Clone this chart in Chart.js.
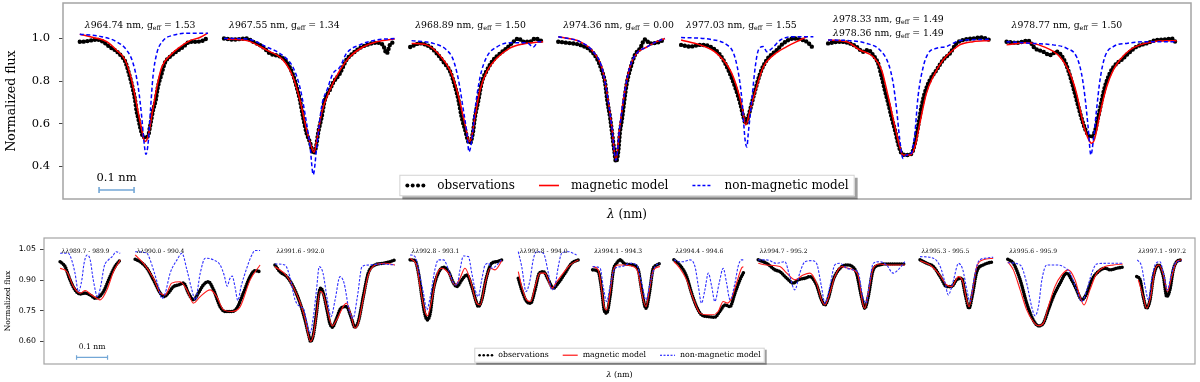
<!DOCTYPE html>
<html>
<head>
<meta charset="utf-8">
<script src="https://cdn.jsdelivr.net/npm/chart.js@4.4.1/dist/chart.umd.min.js"></script>
<style>
  html, body { margin: 0; padding: 0; background: #fff; }
  #wrap { position: relative; width: 1200px; height: 382px; overflow: hidden; }
  canvas { position: absolute; left: 0; }
  #topPanel { top: 0; }
  #botPanel { top: 230px; }
</style>
</head>
<body>
<div id="wrap">
  <canvas id="topPanel" width="1200" height="230"></canvas>
  <canvas id="botPanel" width="1200" height="152"></canvas>
</div>
<script>
const SERIF = '"DejaVu Serif"';
const SANS = '"DejaVu Sans"';

const seriesNames = ['observations', 'magnetic model', 'non-magnetic model'];

// ---------- upper panel: single lines, x = offset from line centre (nm) ----------
// where each line centre sits on the joined wavelength axis (nm)
const topCentres = [0.237, 0.715, 1.161, 1.580, 1.951, 2.411, 2.939];
const topWave = [[964.74], [967.55], [968.89], [974.36], [977.03], [978.33, 978.36], [978.77]];
const topGeff = [[1.53], [1.34], [1.50], [0.00], [1.55], [1.49, 1.49], [1.50]];
const topTicks = [0.4, 0.6, 0.8, 1.0];

const topObs = [
  [[-0.189,0.985],[-0.180,0.985],[-0.160,0.990],[-0.141,0.995],[-0.123,0.985],[-0.103,0.960],[-0.084,0.940],[-0.069,0.915],[-0.060,0.895],[-0.046,0.820],[-0.037,0.760],[-0.031,0.710],[-0.027,0.660],[-0.022,0.625],[-0.017,0.585],[-0.012,0.555],[-0.008,0.535],[-0.001,0.535],[0.007,0.545],[0.011,0.580],[0.016,0.625],[0.020,0.660],[0.028,0.710],[0.034,0.770],[0.045,0.835],[0.054,0.885],[0.069,0.915],[0.088,0.940],[0.106,0.960],[0.126,0.985],[0.145,0.985],[0.163,0.990],[0.177,1.005]],
  [[-0.255,1.000],[-0.229,0.995],[-0.190,1.000],[-0.172,0.985],[-0.144,0.960],[-0.124,0.930],[-0.095,0.915],[-0.076,0.890],[-0.058,0.830],[-0.047,0.770],[-0.038,0.710],[-0.029,0.630],[-0.019,0.555],[-0.009,0.510],[0,0.460],[0.008,0.490],[0.014,0.555],[0.024,0.630],[0.033,0.710],[0.048,0.760],[0.056,0.790],[0.076,0.835],[0.095,0.900],[0.113,0.930],[0.133,0.955],[0.153,0.970],[0.181,0.980],[0.199,0.970],[0.210,0.930],[0.219,0.970],[0.233,0.985]],
  [[-0.169,0.960],[-0.141,0.977],[-0.112,0.960],[-0.093,0.930],[-0.074,0.890],[-0.055,0.845],[-0.041,0.775],[-0.031,0.710],[-0.022,0.630],[-0.012,0.570],[-0.003,0.515],[0.002,0.508],[0.010,0.555],[0.016,0.630],[0.026,0.710],[0.035,0.790],[0.050,0.850],[0.069,0.900],[0.088,0.930],[0.107,0.955],[0.126,0.985],[0.140,1.000],[0.154,0.985],[0.173,0.985],[0.188,1.000],[0.211,0.985]],
  [[-0.165,0.985],[-0.141,0.980],[-0.103,0.970],[-0.074,0.946],[-0.055,0.907],[-0.041,0.852],[-0.031,0.790],[-0.025,0.710],[-0.017,0.630],[-0.011,0.554],[-0.005,0.475],[0,0.420],[0.007,0.475],[0.011,0.554],[0.018,0.630],[0.024,0.710],[0.031,0.790],[0.040,0.852],[0.054,0.922],[0.069,0.954],[0.083,0.996],[0.097,0.977],[0.116,0.980],[0.140,0.996]],
  [[-0.185,0.970],[-0.159,0.962],[-0.131,0.970],[-0.102,0.962],[-0.073,0.922],[-0.050,0.852],[-0.031,0.773],[-0.016,0.695],[-0.007,0.632],[0,0.600],[0.007,0.632],[0.017,0.695],[0.027,0.758],[0.041,0.836],[0.060,0.900],[0.089,0.946],[0.107,0.977],[0.136,1.000],[0.155,0.996],[0.174,0.985],[0.193,0.954]],
  [[-0.225,0.977],[-0.191,0.985],[-0.163,0.977],[-0.144,0.962],[-0.125,0.938],[-0.111,0.946],[-0.096,0.922],[-0.082,0.883],[-0.072,0.820],[-0.063,0.758],[-0.053,0.695],[-0.044,0.632],[-0.034,0.570],[-0.025,0.507],[-0.015,0.460],[-0.001,0.452],[0.013,0.457],[0.023,0.507],[0.032,0.585],[0.042,0.680],[0.051,0.742],[0.066,0.805],[0.085,0.852],[0.104,0.900],[0.123,0.930],[0.142,0.977],[0.161,0.993],[0.189,1.000],[0.213,1.005],[0.237,0.993]],
  [[-0.243,0.985],[-0.214,0.980],[-0.181,0.990],[-0.162,0.954],[-0.138,0.938],[-0.119,0.922],[-0.100,0.938],[-0.081,0.907],[-0.067,0.852],[-0.053,0.773],[-0.038,0.680],[-0.024,0.600],[-0.010,0.546],[0,0.538],[0.009,0.561],[0.019,0.632],[0.029,0.710],[0.038,0.773],[0.052,0.836],[0.067,0.875],[0.086,0.900],[0.105,0.930],[0.129,0.962],[0.157,0.977],[0.186,0.993],[0.214,0.996],[0.229,1.000],[0.243,0.977]]
];

const topMag = [
  [[-0.189,1.020],[-0.151,1.005],[-0.112,0.985],[-0.084,0.945],[-0.060,0.900],[-0.041,0.805],[-0.027,0.695],[-0.012,0.570],[-0.003,0.515],[0.007,0.545],[0.016,0.630],[0.031,0.770],[0.045,0.865],[0.069,0.920],[0.097,0.960],[0.126,0.990],[0.154,1.005],[0.177,1.025]],
  [[-0.247,0.997],[-0.190,0.990],[-0.133,0.945],[-0.087,0.900],[-0.058,0.820],[-0.038,0.710],[-0.019,0.570],[-0.005,0.490],[0.002,0.465],[0.010,0.520],[0.024,0.650],[0.048,0.760],[0.076,0.850],[0.105,0.915],[0.142,0.960],[0.181,0.985],[0.233,0.998]],
  [[-0.165,0.977],[-0.122,0.970],[-0.084,0.920],[-0.055,0.850],[-0.036,0.760],[-0.017,0.630],[-0.007,0.555],[-0.001,0.515],[0.007,0.538],[0.016,0.630],[0.031,0.760],[0.050,0.845],[0.078,0.907],[0.116,0.955],[0.154,0.974],[0.211,0.985]],
  [[-0.165,1.008],[-0.103,0.985],[-0.065,0.938],[-0.041,0.867],[-0.027,0.758],[-0.012,0.585],[0,0.428],[0.011,0.585],[0.026,0.758],[0.040,0.867],[0.059,0.930],[0.088,0.960],[0.116,0.985],[0.140,1.000]],
  [[-0.185,0.993],[-0.131,0.970],[-0.083,0.930],[-0.045,0.852],[-0.026,0.773],[-0.011,0.680],[0,0.593],[0.012,0.663],[0.027,0.750],[0.050,0.867],[0.079,0.922],[0.117,0.962],[0.155,0.993],[0.174,1.008]],
  [[-0.225,0.993],[-0.172,0.985],[-0.134,0.946],[-0.096,0.914],[-0.072,0.852],[-0.053,0.726],[-0.034,0.585],[-0.020,0.490],[-0.011,0.452],[0.009,0.452],[0.023,0.490],[0.037,0.600],[0.056,0.742],[0.075,0.820],[0.104,0.900],[0.132,0.946],[0.151,0.970],[0.189,0.985],[0.237,0.990]],
  [[-0.243,0.970],[-0.186,0.980],[-0.138,0.962],[-0.091,0.914],[-0.062,0.836],[-0.043,0.742],[-0.024,0.600],[-0.010,0.530],[0,0.507],[0.009,0.530],[0.024,0.648],[0.043,0.773],[0.062,0.852],[0.081,0.900],[0.109,0.946],[0.138,0.970],[0.176,0.985],[0.243,0.990]]
];

const topNonMag = [
  [[-0.189,1.020],[-0.131,1.010],[-0.084,0.985],[-0.055,0.945],[-0.037,0.885],[-0.022,0.770],[-0.012,0.630],[-0.006,0.520],[0,0.455],[0.007,0.520],[0.013,0.665],[0.020,0.820],[0.031,0.930],[0.049,0.990],[0.077,1.015],[0.126,1.025],[0.177,1.025]],
  [[-0.255,1.000],[-0.190,0.998],[-0.133,0.960],[-0.087,0.920],[-0.058,0.865],[-0.038,0.770],[-0.024,0.650],[-0.009,0.490],[0,0.360],[0.010,0.490],[0.024,0.680],[0.042,0.770],[0.056,0.835],[0.076,0.865],[0.095,0.930],[0.133,0.970],[0.181,0.993],[0.233,1.000]],
  [[-0.165,0.990],[-0.103,0.977],[-0.065,0.946],[-0.046,0.900],[-0.031,0.805],[-0.017,0.663],[-0.007,0.555],[-0.001,0.467],[0.007,0.522],[0.016,0.663],[0.031,0.820],[0.050,0.914],[0.078,0.960],[0.116,0.980],[0.164,0.980],[0.183,0.960],[0.197,0.985],[0.211,0.985]],
  [[-0.165,1.008],[-0.103,0.985],[-0.065,0.938],[-0.041,0.867],[-0.027,0.758],[-0.012,0.585],[0,0.428],[0.011,0.585],[0.026,0.758],[0.040,0.867],[0.059,0.930],[0.088,0.960],[0.116,0.985],[0.140,1.000]],
  [[-0.185,1.005],[-0.102,0.996],[-0.054,0.970],[-0.035,0.930],[-0.021,0.836],[-0.011,0.710],[-0.002,0.522],[0.003,0.490],[0.007,0.554],[0.017,0.710],[0.027,0.867],[0.036,0.946],[0.050,0.962],[0.060,0.938],[0.075,0.954],[0.099,0.993],[0.136,1.008],[0.193,1.008]],
  [[-0.225,0.993],[-0.163,0.990],[-0.115,0.977],[-0.077,0.946],[-0.053,0.883],[-0.039,0.790],[-0.029,0.663],[-0.020,0.522],[-0.011,0.436],[-0.001,0.452],[0.013,0.460],[0.023,0.554],[0.032,0.726],[0.047,0.867],[0.061,0.930],[0.085,0.954],[0.113,0.962],[0.132,0.977],[0.151,0.990],[0.237,0.996]],
  [[-0.243,0.985],[-0.167,0.977],[-0.110,0.970],[-0.071,0.954],[-0.043,0.914],[-0.029,0.836],[-0.019,0.726],[-0.010,0.585],[-0.002,0.452],[0.005,0.522],[0.014,0.663],[0.024,0.805],[0.038,0.914],[0.062,0.962],[0.100,0.977],[0.157,0.985],[0.243,0.985]]
];

// ---------- lower panel: wavelength windows, x = offset from window start (nm) ----------
const botStarts = [0.052, 0.294, 0.745, 1.181, 1.530, 1.770, 2.032, 2.304, 2.826, 3.109, 3.525];
const botRanges = ['989.7 - 989.9', '990.0 - 990.4', '991.6 - 992.0', '992.8 - 993.1', '993.8 - 994.0',
  '994.1 - 994.3', '994.4 - 994.6', '994.7 - 995.2', '995.3 - 995.5', '995.6 - 995.9', '997.1 - 997.2'];
const botTicks = [0.60, 0.75, 0.90, 1.05];

const botObs = [
  [[0,0.990],[0.016,0.966],[0.032,0.901],[0.048,0.852],[0.065,0.832],[0.081,0.836],[0.097,0.827],[0.113,0.811],[0.124,0.816],[0.140,0.844],[0.161,0.917],[0.177,0.966],[0.194,0.999]],
  [[0,1.002],[0.016,0.990],[0.038,0.958],[0.059,0.901],[0.081,0.836],[0.094,0.819],[0.107,0.836],[0.124,0.868],[0.140,0.876],[0.156,0.885],[0.172,0.836],[0.188,0.803],[0.204,0.836],[0.220,0.876],[0.236,0.892],[0.253,0.852],[0.274,0.770],[0.290,0.746],[0.312,0.746],[0.328,0.762],[0.349,0.836],[0.371,0.917],[0.387,0.946],[0.403,0.941]],
  [[0,0.974],[0.016,0.941],[0.038,0.917],[0.059,0.868],[0.081,0.787],[0.097,0.705],[0.110,0.623],[0.115,0.599],[0.124,0.632],[0.134,0.738],[0.142,0.836],[0.148,0.860],[0.156,0.836],[0.168,0.754],[0.177,0.689],[0.185,0.669],[0.197,0.705],[0.213,0.762],[0.231,0.770],[0.245,0.721],[0.258,0.669],[0.269,0.697],[0.285,0.819],[0.301,0.934],[0.323,0.974],[0.349,0.982],[0.371,0.990],[0.387,0.999]],
  [[0,0.999],[0.016,0.995],[0.027,0.934],[0.038,0.819],[0.048,0.730],[0.056,0.705],[0.065,0.738],[0.075,0.852],[0.091,0.934],[0.108,0.963],[0.124,0.941],[0.140,0.885],[0.151,0.868],[0.167,0.901],[0.183,0.925],[0.199,0.868],[0.213,0.795],[0.220,0.770],[0.231,0.803],[0.247,0.917],[0.263,0.982],[0.280,0.990],[0.296,0.999]],
  [[0,0.909],[0.011,0.852],[0.027,0.795],[0.040,0.787],[0.054,0.852],[0.068,0.934],[0.081,0.941],[0.097,0.901],[0.113,0.860],[0.129,0.885],[0.151,0.934],[0.172,0.982],[0.194,0.999]],
  [[0,0.950],[0.018,0.941],[0.029,0.852],[0.037,0.754],[0.045,0.738],[0.056,0.819],[0.067,0.950],[0.077,0.982],[0.088,0.999],[0.104,0.979],[0.131,0.974],[0.147,0.950],[0.158,0.852],[0.172,0.762],[0.183,0.836],[0.194,0.950],[0.207,0.974],[0.217,0.982]],
  [[0,0.999],[0.019,0.974],[0.041,0.917],[0.057,0.836],[0.073,0.770],[0.089,0.730],[0.111,0.721],[0.132,0.718],[0.148,0.746],[0.165,0.778],[0.181,0.770],[0.197,0.836],[0.213,0.901],[0.226,0.941]],
  [[0,0.999],[0.027,0.982],[0.054,0.950],[0.070,0.941],[0.092,0.909],[0.113,0.885],[0.129,0.901],[0.151,0.909],[0.167,0.917],[0.188,0.876],[0.204,0.803],[0.215,0.778],[0.226,0.811],[0.242,0.901],[0.264,0.958],[0.285,0.974],[0.301,0.969],[0.317,0.934],[0.333,0.819],[0.344,0.762],[0.355,0.819],[0.371,0.950],[0.392,0.974],[0.414,0.979],[0.441,0.979],[0.473,0.979]],
  [[0,0.999],[0.022,0.982],[0.043,0.966],[0.065,0.917],[0.086,0.868],[0.102,0.868],[0.118,0.901],[0.134,0.909],[0.145,0.836],[0.158,0.762],[0.170,0.836],[0.183,0.941],[0.204,0.974],[0.236,0.990]],
  [[0,1.002],[0.018,0.982],[0.040,0.901],[0.061,0.787],[0.082,0.705],[0.099,0.676],[0.115,0.689],[0.131,0.754],[0.147,0.819],[0.169,0.885],[0.190,0.934],[0.206,0.901],[0.222,0.852],[0.239,0.803],[0.255,0.836],[0.271,0.901],[0.292,0.941],[0.314,0.958],[0.330,0.950],[0.352,0.958],[0.371,0.963]],
  [[0,0.917],[0.011,0.901],[0.021,0.819],[0.032,0.762],[0.043,0.803],[0.054,0.917],[0.070,0.974],[0.086,0.917],[0.097,0.819],[0.107,0.852],[0.118,0.950],[0.129,0.990],[0.145,0.999]]
];

const botMag = [
  [[0,0.958],[0.022,0.941],[0.043,0.868],[0.065,0.836],[0.081,0.849],[0.097,0.832],[0.118,0.811],[0.129,0.803],[0.151,0.852],[0.172,0.941],[0.194,0.999]],
  [[0,1.023],[0.027,0.982],[0.059,0.909],[0.081,0.836],[0.097,0.827],[0.118,0.885],[0.145,0.892],[0.167,0.852],[0.188,0.787],[0.210,0.819],[0.242,0.852],[0.263,0.819],[0.285,0.754],[0.312,0.746],[0.339,0.770],[0.371,0.901],[0.403,0.974]],
  [[0,0.965],[0.038,0.920],[0.081,0.790],[0.097,0.710],[0.115,0.600],[0.124,0.630],[0.134,0.730],[0.145,0.845],[0.156,0.830],[0.168,0.760],[0.185,0.675],[0.197,0.700],[0.231,0.787],[0.245,0.730],[0.258,0.664],[0.269,0.690],[0.285,0.810],[0.301,0.925],[0.323,0.974],[0.355,0.982],[0.387,0.974]],
  [[0,1.007],[0.022,0.966],[0.032,0.868],[0.048,0.746],[0.056,0.725],[0.070,0.803],[0.086,0.925],[0.102,0.958],[0.124,0.934],[0.145,0.876],[0.161,0.909],[0.177,0.958],[0.194,0.901],[0.215,0.787],[0.226,0.778],[0.242,0.885],[0.258,0.958],[0.274,0.950],[0.296,0.995]],
  [[0,0.941],[0.011,0.868],[0.027,0.803],[0.040,0.795],[0.054,0.868],[0.070,0.934],[0.086,0.934],[0.108,0.860],[0.124,0.892],[0.145,0.934],[0.167,0.974],[0.194,0.999]],
  [[0,0.966],[0.018,0.950],[0.029,0.852],[0.037,0.770],[0.045,0.754],[0.056,0.836],[0.067,0.950],[0.083,0.974],[0.104,0.974],[0.131,0.966],[0.147,0.934],[0.158,0.836],[0.172,0.770],[0.183,0.852],[0.196,0.950],[0.217,0.966]],
  [[0,0.990],[0.019,0.958],[0.041,0.901],[0.062,0.811],[0.084,0.738],[0.105,0.730],[0.126,0.730],[0.143,0.746],[0.159,0.795],[0.172,0.787],[0.186,0.811],[0.202,0.885],[0.218,0.958],[0.224,0.966]],
  [[0,0.982],[0.027,0.974],[0.070,0.966],[0.092,0.934],[0.119,0.901],[0.145,0.925],[0.167,0.934],[0.188,0.885],[0.204,0.803],[0.215,0.778],[0.231,0.836],[0.247,0.917],[0.269,0.966],[0.290,0.958],[0.306,0.950],[0.323,0.917],[0.337,0.787],[0.344,0.762],[0.355,0.836],[0.371,0.958],[0.392,0.979],[0.425,0.974],[0.473,0.974]],
  [[0,0.995],[0.032,0.974],[0.059,0.934],[0.086,0.876],[0.102,0.868],[0.124,0.917],[0.138,0.892],[0.148,0.819],[0.158,0.770],[0.170,0.852],[0.183,0.966],[0.204,0.999],[0.236,1.007]],
  [[0,0.990],[0.018,0.950],[0.040,0.852],[0.061,0.754],[0.082,0.697],[0.099,0.676],[0.115,0.689],[0.131,0.770],[0.152,0.868],[0.174,0.925],[0.195,0.950],[0.217,0.901],[0.233,0.819],[0.246,0.778],[0.265,0.852],[0.287,0.934],[0.314,0.966],[0.341,0.974],[0.371,0.979]],
  [[0.005,0.901],[0.021,0.819],[0.032,0.762],[0.045,0.819],[0.059,0.950],[0.072,0.974],[0.086,0.925],[0.099,0.844],[0.113,0.917],[0.129,0.990],[0.145,0.999]]
];

const botNonMag = [
  [[0,1.031],[0.026,1.031],[0.039,0.990],[0.048,0.934],[0.059,0.844],[0.070,0.900],[0.077,0.980],[0.087,1.023],[0.097,0.999],[0.107,0.900],[0.121,0.819],[0.131,0.870],[0.142,0.966],[0.156,0.999],[0.168,1.015],[0.181,1.039],[0.194,1.031]],
  [[0,1.039],[0.038,1.031],[0.048,1.000],[0.059,0.950],[0.075,0.868],[0.086,0.810],[0.097,0.836],[0.113,0.934],[0.135,0.999],[0.151,1.031],[0.167,0.950],[0.183,0.852],[0.194,0.803],[0.210,0.934],[0.226,1.007],[0.253,0.999],[0.274,0.974],[0.287,0.925],[0.297,0.870],[0.305,0.905],[0.313,0.920],[0.323,0.860],[0.331,0.800],[0.342,0.870],[0.360,0.958],[0.374,1.015],[0.387,1.045],[0.403,1.045]],
  [[0,0.979],[0.032,0.974],[0.048,0.917],[0.065,0.803],[0.081,0.770],[0.094,0.754],[0.103,0.689],[0.113,0.640],[0.124,0.721],[0.134,0.852],[0.143,0.966],[0.155,0.934],[0.169,0.803],[0.181,0.721],[0.194,0.803],[0.210,0.917],[0.223,0.885],[0.239,0.754],[0.252,0.713],[0.266,0.819],[0.281,0.966],[0.306,0.974],[0.339,0.979],[0.387,0.974]],
  [[0,1.023],[0.016,1.015],[0.027,0.950],[0.043,0.836],[0.054,0.754],[0.065,0.819],[0.081,0.958],[0.091,0.999],[0.108,0.999],[0.124,0.950],[0.140,0.885],[0.151,0.876],[0.161,0.950],[0.172,1.018],[0.188,1.015],[0.199,0.934],[0.210,0.852],[0.220,0.819],[0.231,0.901],[0.242,0.974],[0.253,0.982],[0.263,0.958],[0.280,0.974],[0.296,1.002]],
  [[0,1.039],[0.011,0.966],[0.025,0.844],[0.038,0.901],[0.048,0.999],[0.059,1.039],[0.081,1.031],[0.097,0.934],[0.108,0.852],[0.118,0.868],[0.129,0.966],[0.140,1.031],[0.161,1.039],[0.188,1.023]],
  [[0,0.966],[0.024,0.958],[0.034,0.868],[0.045,0.795],[0.056,0.868],[0.072,0.958],[0.094,0.966],[0.120,0.982],[0.142,0.974],[0.158,0.885],[0.172,0.803],[0.185,0.885],[0.201,0.966],[0.217,0.982]],
  [[0,0.999],[0.014,0.990],[0.030,0.990],[0.052,0.999],[0.068,0.966],[0.079,0.868],[0.089,0.787],[0.100,0.852],[0.111,0.934],[0.122,0.868],[0.132,0.795],[0.146,0.885],[0.159,0.958],[0.170,0.885],[0.181,0.803],[0.197,0.885],[0.207,0.966],[0.218,0.999],[0.224,0.999]],
  [[0,0.999],[0.027,0.999],[0.059,0.982],[0.086,0.990],[0.102,0.917],[0.118,0.852],[0.134,0.934],[0.151,0.990],[0.172,0.995],[0.188,0.982],[0.204,0.868],[0.215,0.787],[0.231,0.868],[0.247,0.974],[0.264,0.982],[0.285,0.958],[0.306,0.950],[0.323,0.934],[0.337,0.819],[0.348,0.787],[0.359,0.885],[0.371,0.982],[0.392,0.990],[0.414,0.974],[0.435,0.934],[0.451,0.950],[0.473,0.990]],
  [[0,1.015],[0.043,1.007],[0.065,0.966],[0.081,0.885],[0.091,0.827],[0.108,0.901],[0.124,0.982],[0.138,0.950],[0.151,0.852],[0.161,0.795],[0.174,0.901],[0.188,0.990],[0.210,1.007],[0.236,1.012]],
  [[0,0.985],[0.040,0.974],[0.061,0.885],[0.077,0.770],[0.088,0.725],[0.099,0.770],[0.110,0.901],[0.126,0.974],[0.158,0.974],[0.179,0.966],[0.201,0.934],[0.222,0.852],[0.239,0.795],[0.255,0.852],[0.271,0.934],[0.287,0.979],[0.320,0.982],[0.371,0.982]],
  [[0.002,0.999],[0.016,0.966],[0.027,0.868],[0.038,0.803],[0.048,0.901],[0.059,0.974],[0.075,0.990],[0.086,0.934],[0.099,0.852],[0.110,0.917],[0.124,0.982],[0.145,0.995]]
];

// ---------- helpers ----------
function toXY(pts, x0) {
  return pts.map(p => ({ x: x0 + p[0], y: p[1] }));
}

function makeDatasets(starts, obs, mag, nonMag, st) {
  const sets = [];
  starts.forEach((x0, i) => {
    sets.push(Object.assign({ label: seriesNames[0], data: toXY(obs[i], x0), order: 3 }, st[0]));
    sets.push(Object.assign({ label: seriesNames[1], data: toXY(mag[i], x0), order: 2 }, st[1]));
    sets.push(Object.assign({ label: seriesNames[2], data: toXY(nonMag[i], x0), order: 1 }, st[2]));
  });
  return sets;
}

// draw a run of text pieces [{t, font, dy}] starting at x (or centred on x)
function drawPieces(ctx, pieces, x, y, centre) {
  let w = 0;
  pieces.forEach(p => { ctx.font = p.font; p.w = ctx.measureText(p.t).width; w += p.w; });
  let cx = centre ? x - w / 2 : x;
  ctx.textAlign = 'left';
  pieces.forEach(p => { ctx.font = p.font; ctx.fillText(p.t, cx, y + (p.dy || 0)); cx += p.w; });
}

function drawLegend(ctx, L, cx) {
  ctx.font = L.font;
  const widths = seriesNames.map(s => ctx.measureText(s).width);
  const total = L.pad * 2 + widths.reduce((s, w) => s + w, 0) + 3 * (L.handle + L.gap) + 2 * L.col;
  const x0 = cx - total / 2, y0 = L.cy - L.h / 2;
  ctx.fillStyle = 'rgba(0,0,0,0.38)';
  ctx.fillRect(x0 + L.sh, y0 + L.sh, total, L.h);
  ctx.fillStyle = '#fff';
  ctx.fillRect(x0, y0, total, L.h);
  ctx.strokeStyle = '#d2d2d2';
  ctx.lineWidth = 1;
  ctx.strokeRect(x0 + 0.5, y0 + 0.5, total - 1, L.h - 1);
  let x = x0 + L.pad;
  seriesNames.forEach((name, k) => {
    const h0 = x, h1 = x + L.handle;
    if (k === 0) {
      ctx.fillStyle = '#000';
      for (let d = 0; d < 4; d++) {
        ctx.beginPath();
        ctx.arc(h0 + L.dot + d * (L.handle - 2 * L.dot) / 3, L.cy, L.dot, 0, Math.PI * 2);
        ctx.fill();
      }
    } else {
      ctx.beginPath();
      ctx.strokeStyle = k === 1 ? '#ff0000' : '#0000ff';
      ctx.lineWidth = L.lw;
      ctx.setLineDash(k === 2 ? L.dash : []);
      ctx.moveTo(h0, L.cy);
      ctx.lineTo(h1, L.cy);
      ctx.stroke();
      ctx.setLineDash([]);
    }
    ctx.fillStyle = '#000';
    ctx.font = L.font;
    ctx.textAlign = 'left';
    ctx.fillText(name, h1 + L.gap, L.cy);
    x = h1 + L.gap + widths[k] + L.col;
  });
}

const decor = {
  id: 'decor',
  afterDraw(chart, _args, o) {
    const { ctx, chartArea: a } = chart;
    const xs = chart.scales.x, ys = chart.scales.y;
    ctx.save();
    ctx.textBaseline = 'middle';

    // frame
    ctx.strokeStyle = '#a4a4a4';
    ctx.lineWidth = o.frameWidth;
    ctx.strokeRect(a.left, a.top, a.right - a.left, a.bottom - a.top);

    // axis titles
    ctx.fillStyle = '#000';
    ctx.save();
    ctx.translate(o.yTitleX, (a.top + a.bottom) / 2);
    ctx.rotate(-Math.PI / 2);
    ctx.textAlign = 'center';
    ctx.font = `${o.yTitleSize}px ${SERIF}`;
    ctx.fillText('Normalized flux', 0, 0);
    ctx.restore();
    drawPieces(ctx, [
      { t: 'λ', font: `italic ${o.xTitleSize}px ${SERIF}` },
      { t: ' (nm)', font: `${o.xTitleSize}px ${SERIF}` }
    ], (a.left + a.right) / 2, o.xTitleY, true);

    // window labels
    ctx.fillStyle = '#000';
    o.drawLabels(ctx, xs, ys);

    // 0.1 nm scale bar
    const b = o.bar;
    const bx0 = xs.getPixelForValue(b.x0), bx1 = xs.getPixelForValue(b.x0 + 0.1), by = ys.getPixelForValue(b.y);
    ctx.strokeStyle = '#73a7d6';
    ctx.lineWidth = b.lw;
    ctx.beginPath();
    ctx.moveTo(bx0, by); ctx.lineTo(bx1, by);
    ctx.moveTo(bx0, by - b.cap); ctx.lineTo(bx0, by + b.cap);
    ctx.moveTo(bx1, by - b.cap); ctx.lineTo(bx1, by + b.cap);
    ctx.stroke();
    ctx.fillStyle = '#000';
    ctx.textAlign = 'center';
    ctx.font = `${b.size}px ${SERIF}`;
    ctx.fillText('0.1 nm', (bx0 + bx1) / 2, ys.getPixelForValue(b.textY));

    drawLegend(ctx, o.legend, (a.left + a.right) / 2);
    ctx.restore();
  }
};
Chart.register(decor);

function panelOptions(c) {
  return {
    responsive: false,
    animation: false,
    events: [],
    layout: { padding: c.padding },
    elements: { point: { radius: 0, hoverRadius: 0 } },
    plugins: { legend: { display: false }, tooltip: { enabled: false }, decor: c.decor },
    scales: {
      x: { type: 'linear', min: 0, max: c.xMax, display: false },
      y: {
        min: c.yMin, max: c.yMax,
        afterFit: s => { s.width = c.axisW; s.paddingTop = 0; s.paddingBottom = 0; },
        afterBuildTicks: s => { s.ticks = c.ticks.map(v => ({ value: v })); },
        ticks: {
          callback: v => Number(v).toFixed(c.dec),
          font: { family: c.tickFamily, size: c.tickSize },
          color: '#000',
          padding: c.tickPad
        },
        grid: { drawOnChartArea: false, drawTicks: true, tickLength: 4, color: '#444', lineWidth: 1 },
        border: { display: false }
      }
    }
  };
}

// ---------- upper chart ----------
const topStyle = [
  { borderColor: '#000', borderWidth: 4.4, borderDash: [0, 3.8], borderCapStyle: 'round', cubicInterpolationMode: 'monotone', fill: false },
  { borderColor: '#ff0000', borderWidth: 1.5, cubicInterpolationMode: 'monotone', fill: false },
  { borderColor: '#0000ff', borderWidth: 1.5, borderDash: [4, 2.5], cubicInterpolationMode: 'monotone', fill: false }
];

new Chart(document.getElementById('topPanel'), {
  type: 'line',
  data: { datasets: makeDatasets(topCentres, topObs, topMag, topNonMag, topStyle) },
  options: panelOptions({
    padding: { left: 0, right: 9, top: 3, bottom: 31 },
    xMax: 3.223, yMin: 0.245, yMax: 1.167, axisW: 63, ticks: topTicks, dec: 1,
    tickFamily: SERIF, tickSize: 11.5, tickPad: 9,
    decor: {
      frameWidth: 1.5, yTitleX: 12, yTitleSize: 12.5, xTitleY: 215, xTitleSize: 12,
      bar: { x0: 0.103, y: 0.287, textY: 0.346, size: 11.5, cap: 3, lw: 1.6 },
      legend: { font: `12px ${SERIF}`, pad: 6, handle: 20, gap: 12, col: 24, cy: 185.5, h: 21.5, sh: 3, dot: 2, lw: 1.6, dash: [3, 2] },
      drawLabels(ctx, xs, ys) {
        const size = 9.3;
        topWave.forEach((waves, i) => {
          const x = xs.getPixelForValue(topCentres[i] + topObs[i][0][0]) + 5;
          const rows = waves.length === 1 ? [1.059] : [1.090, 1.024];
          waves.forEach((w, k) => {
            drawPieces(ctx, [
              { t: 'λ', font: `italic ${size}px ${SERIF}` },
              { t: w.toFixed(2) + ' nm, g', font: `${size}px ${SERIF}` },
              { t: 'eff', font: `${size * 0.68}px ${SERIF}`, dy: 2.6 },
              { t: ' = ' + topGeff[i][k].toFixed(2), font: `${size}px ${SERIF}` }
            ], x, ys.getPixelForValue(rows[k]), false);
          });
        });
      }
    }
  })
});

// ---------- lower chart ----------
const botStyle = [
  { borderColor: '#000', borderWidth: 3.6, borderDash: [0, 2.2], borderCapStyle: 'round', cubicInterpolationMode: 'monotone', fill: false },
  { borderColor: '#ff1a1a', borderWidth: 1.1, cubicInterpolationMode: 'monotone', fill: false },
  { borderColor: '#2f2fff', borderWidth: 1.1, borderDash: [2.5, 1.5], cubicInterpolationMode: 'monotone', fill: false }
];

new Chart(document.getElementById('botPanel'), {
  type: 'line',
  data: { datasets: makeDatasets(botStarts, botObs, botMag, botNonMag, botStyle) },
  options: panelOptions({
    padding: { left: 0, right: 5, top: 8, bottom: 18 },
    xMax: 3.713, yMin: 0.489, yMax: 1.106, axisW: 44, ticks: botTicks, dec: 2,
    tickFamily: SANS, tickSize: 7.8, tickPad: 4,
    decor: {
      frameWidth: 1.2, yTitleX: 8, yTitleSize: 7.5, xTitleY: 145, xTitleSize: 7.9,
      bar: { x0: 0.105, y: 0.521, textY: 0.572, size: 7.6, cap: 2.2, lw: 1.2 },
      legend: { font: `7.8px ${SERIF}`, pad: 4, handle: 15, gap: 5, col: 14, cy: 125.2, h: 15, sh: 2, dot: 1.3, lw: 1.1, dash: [2, 1.5] },
      drawLabels(ctx, xs, ys) {
        const size = 6;
        botRanges.forEach((r, i) => {
          drawPieces(ctx, [
            { t: 'λλ', font: `italic ${size}px ${SERIF}` },
            { t: r, font: `${size}px ${SERIF}` }
          ], xs.getPixelForValue(botStarts[i]) + 1.5, ys.getPixelForValue(1.040), false);
        });
      }
    }
  })
});
</script>
</body>
</html>
